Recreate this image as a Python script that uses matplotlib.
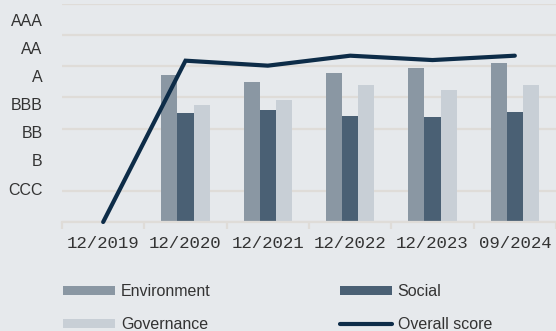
import matplotlib.pyplot as plt
import numpy as np

# data (rating scale: 0 = bottom, each step one grade)
dates = ["12/2019", "12/2020", "12/2021", "12/2022", "12/2023", "09/2024"]
environment = [np.nan, 4.73, 4.50, 4.79, 4.95, 5.11]
social = [np.nan, 3.50, 3.60, 3.41, 3.37, 3.54]
governance = [np.nan, 3.76, 3.92, 4.40, 4.24, 4.40]
overall = [0.0, 5.18, 5.02, 5.34, 5.20, 5.34]
rating_labels = ["CCC", "B", "BB", "BBB", "A", "AA", "AAA"]
rating_pos = [1.06, 2.0, 2.9, 3.8, 4.7, 5.6, 6.5]

bg = "#e6e9ec"
grid_col = "#dfdcd8"

fig = plt.figure(figsize=(5.56, 3.31), dpi=100)
fig.patch.set_facecolor(bg)
ax = fig.add_axes([62/556, 1-222/331, 494/556, 218/331])
ax.set_facecolor(bg)

x = np.arange(len(dates))
w = 0.195
ax.bar(x - w, environment, w, color="#8a97a3", label="Environment", zorder=2)
ax.bar(x, social, w, color="#4a6074", label="Social", zorder=2)
ax.bar(x + w, governance, w, color="#c8cfd6", label="Governance", zorder=2)
ax.plot(x, overall, color="#0d2c48", lw=3, solid_capstyle="round",
        solid_joinstyle="miter", label="Overall score", zorder=3, clip_on=False)

ax.set_xlim(-0.5, len(dates) - 0.5)
ax.set_ylim(0, 7)

ax.set_yticks(range(0, 8), minor=True)
ax.grid(which="minor", axis="y", color=grid_col, lw=1.6, zorder=0)
ax.set_yticks(rating_pos)
ax.set_yticklabels(rating_labels, fontsize=11.5, family="Liberation Sans", color="#333333")
ax.tick_params(axis="y", which="both", length=0, pad=14)

ax.set_xticks(x)
ax.set_xticklabels(dates, fontsize=12.5, family="Liberation Mono", color="#333333")
ax.set_xticks(np.arange(-0.5, len(dates)), minor=True)
ax.tick_params(axis="x", which="major", length=0, pad=10)
ax.tick_params(axis="x", which="minor", length=5, color=grid_col, width=1.6)

for s in ["top", "right", "left"]:
    ax.spines[s].set_visible(False)
ax.spines["bottom"].set_color(grid_col)
ax.spines["bottom"].set_linewidth(1.6)

h, l = ax.get_legend_handles_labels()
order = [1, 3, 2, 0]
h = [h[i] for i in order]
l = [l[i] for i in order]
fig.legend(h, l, ncol=2, loc="upper left", bbox_to_anchor=(63/556, 1-284/331),
           frameon=False, prop={"family": "Liberation Sans", "size": 11.5},
           borderpad=0, borderaxespad=0,
           handlelength=3.25, handleheight=0.5, handletextpad=0.37,
           columnspacing=8.1, labelspacing=1.12, labelcolor="#333333")

plt.savefig("out.png", dpi=100, facecolor=bg)
